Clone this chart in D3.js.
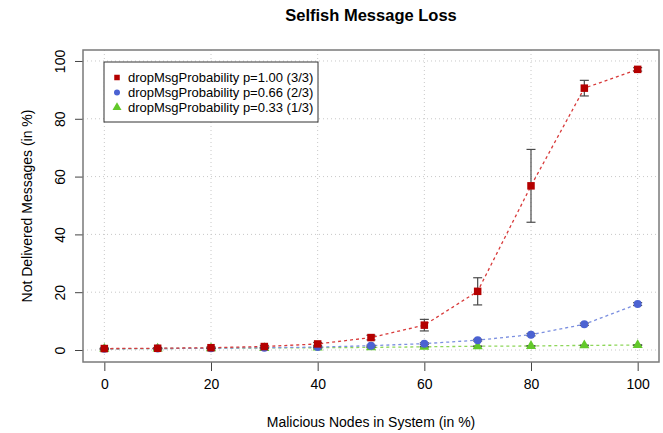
<!DOCTYPE html>
<html><head><meta charset="utf-8">
<script src="https://cdn.jsdelivr.net/npm/d3@7"></script>
<style>body{margin:0;background:#fff}svg{display:block}text{font-family:"Liberation Sans",Arial,sans-serif}</style>
</head><body><svg id="c" width="663" height="433"></svg>
<script>
const xValues = [0,10,20,30,40,50,60,70,80,90,100];
const redValues = [0.5,0.6,0.8,1.2,2.1,4.3,8.6,20.3,56.8,90.6,97.1];
const redErr = [0.2,0.2,0.3,0.4,0.5,0.8,2.0,4.7,12.6,2.7,0.6];
const blueValues = [0.4,0.5,0.6,0.8,1.0,1.5,2.2,3.4,5.3,8.9,15.9];
const blueErr = [0.1,0.1,0.1,0.2,0.2,0.2,0.3,0.3,0.4,0.4,0.5];
const greenValues = [0.4,0.5,0.6,0.7,0.8,0.9,1.1,1.3,1.4,1.6,1.7];
const greenErr = [0.1,0.1,0.1,0.1,0.1,0.1,0.1,0.1,0.1,0.1,0.1];
const xTicks = [0,20,40,60,80,100];
const yTicks = [0,20,40,60,80,100];
const legendLabels = ["dropMsgProbability p=1.00 (3/3)","dropMsgProbability p=0.66 (2/3)","dropMsgProbability p=0.33 (1/3)"];
const titleText = "Selfish Message Loss";
const xTitle = "Malicious Nodes in System (in %)";
const yTitle = "Not Delivered Messages (in %)";

const svg = d3.select("#c");
const L=83, R=659, T=50, B=362;
const x = d3.scaleLinear().domain([-4,104]).range([L,R]);
const y = d3.scaleLinear().domain([-4.15,103.8]).range([B,T]);

// grid
const g = svg.append("g");
g.selectAll(".gx").data(xTicks).join("line")
 .attr("x1",d=>x(d)).attr("x2",d=>x(d)).attr("y1",T).attr("y2",B)
 .attr("stroke","#c8c8c8").attr("stroke-dasharray","1,3");
g.selectAll(".gy").data(yTicks).join("line")
 .attr("x1",L).attr("x2",R).attr("y1",d=>y(d)).attr("y2",d=>y(d))
 .attr("stroke","#c8c8c8").attr("stroke-dasharray","1,3");

// axes
const xAxis = d3.axisBottom(x).tickValues(xTicks).tickSize(9).tickPadding(8);
const gx = svg.append("g").attr("transform",`translate(0,${B})`).call(xAxis);
gx.select(".domain").remove();
gx.selectAll("line").attr("stroke","#444");
gx.selectAll("text").attr("font-size",14).attr("fill","#000").attr("font-family","Liberation Sans, Arial");

const yAxis = d3.axisLeft(y).tickValues(yTicks).tickSize(8).tickPadding(0);
const gy = svg.append("g").attr("transform",`translate(${L},0)`).call(yAxis);
gy.select(".domain").remove();
gy.selectAll("line").attr("stroke","#444");
gy.selectAll("text").attr("font-size",14).attr("fill","#000").attr("font-family","Liberation Sans, Arial")
 .attr("text-anchor","middle").attr("x",0).attr("dy",0)
 .attr("transform","translate(-18,0) rotate(-90)");

// box
svg.append("rect").attr("x",L).attr("y",T).attr("width",R-L).attr("height",B-T)
 .attr("fill","none").attr("stroke","#7a7a7a").attr("stroke-width",1.5);

const series = [
 {vals:greenValues, err:greenErr, color:"#62c82a", line:"#8ed65a", shape:"tri"},
 {vals:blueValues, err:blueErr, color:"#4b62d2", line:"#7b8fe0", shape:"circ"},
 {vals:redValues, err:redErr, color:"#b40000", line:"#d83a3a", shape:"sq"}
];
const line = d3.line().x((d,i)=>x(xValues[i])).y(d=>y(d));
function drawSym(sel, shape, color, s){
  if(shape==="sq") sel.append("rect").attr("x",-s/2).attr("y",-s/2).attr("width",s).attr("height",s).attr("fill",color);
  else if(shape==="circ") sel.append("circle").attr("r",s/2).attr("fill",color);
  else sel.append("path").attr("d",d3.symbol(d3.symbolTriangle, s*s*0.55)()).attr("fill",color);
}
series.forEach(s=>{
  const sg = svg.append("g");
  sg.append("path").attr("d",line(s.vals)).attr("fill","none").attr("stroke",s.line)
    .attr("stroke-width",1.3).attr("stroke-dasharray","3,3");
  s.vals.forEach((v,i)=>{
    const cx=x(xValues[i]), lo=y(v-s.err[i]), hi=y(v+s.err[i]);
    sg.append("line").attr("x1",cx).attr("x2",cx).attr("y1",lo).attr("y2",hi).attr("stroke","#4a4a4a").attr("stroke-width",1.2);
    [lo,hi].forEach(yy=>sg.append("line").attr("x1",cx-4.5).attr("x2",cx+4.5).attr("y1",yy).attr("y2",yy).attr("stroke","#4a4a4a").attr("stroke-width",1.2));
  });
  s.vals.forEach((v,i)=>{
    const m = sg.append("g").attr("transform",`translate(${x(xValues[i])},${y(v)})`);
    drawSym(m, s.shape, s.color, s.shape==="tri"?9:(s.shape==="circ"?8:7.5));
  });
});

// legend
const lg = svg.append("g");
lg.append("rect").attr("x",104).attr("y",62).attr("width",214).attr("height",60)
 .attr("fill","#fff").attr("stroke","#333").attr("stroke-width",1);
const legSeries=[series[2],series[1],series[0]];
legSeries.forEach((s,i)=>{
  const yy = 77.5 + i*15;
  const m = lg.append("g").attr("transform",`translate(117,${yy})`);
  drawSym(m, s.shape, s.color, s.shape==="tri"?8:(s.shape==="circ"?6:5.5));
  lg.append("text").attr("x",128).attr("y",yy).attr("dy","0.35em").attr("font-size",13).text(legendLabels[i]);
});

// titles
svg.append("text").attr("x",(L+R)/2).attr("y",21).attr("text-anchor","middle")
 .attr("font-size",16.5).attr("font-weight","bold").text(titleText);
svg.append("text").attr("x",(L+R)/2).attr("y",427).attr("text-anchor","middle")
 .attr("font-size",14).text(xTitle);
svg.append("text").attr("transform",`translate(32,${(T+B)/2}) rotate(-90)`).attr("text-anchor","middle")
 .attr("font-size",14).text(yTitle);
</script></body></html>
